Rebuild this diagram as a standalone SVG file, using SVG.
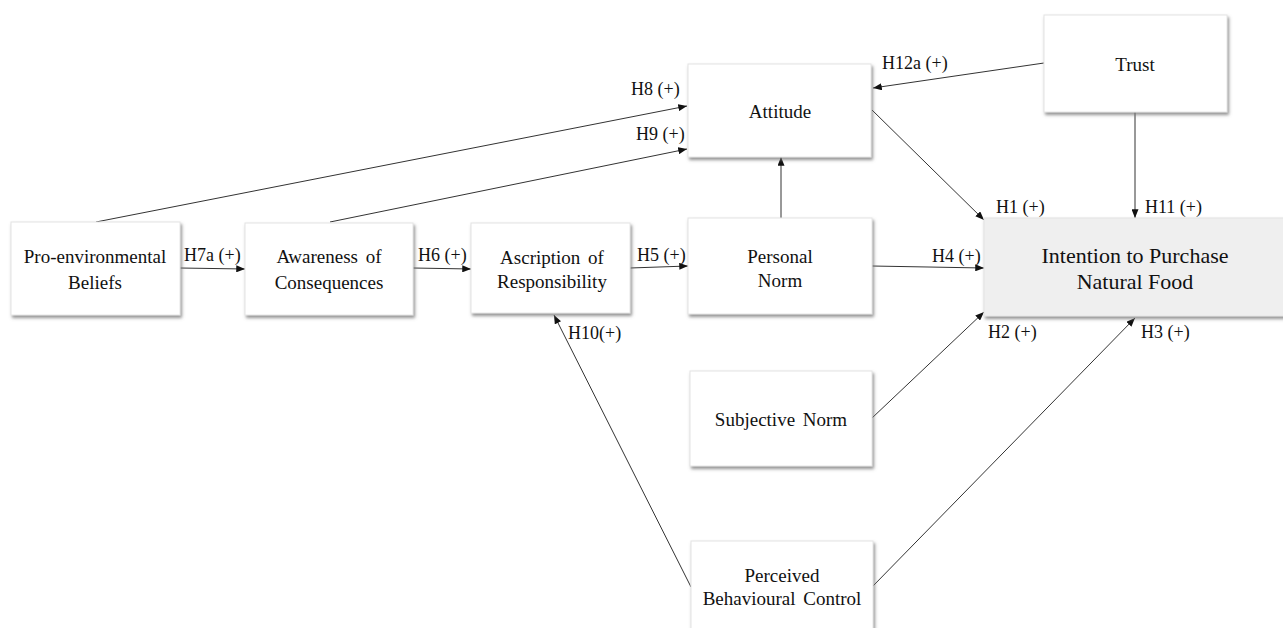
<svg xmlns="http://www.w3.org/2000/svg" width="1283" height="628" viewBox="0 0 1283 628">
<style>
.box{fill:#fff;stroke:#e4e4e4;stroke-width:1;filter:url(#sh)}
.hl{fill:#efefef}
.t{font-family:"Liberation Serif","Times New Roman","DejaVu Serif",serif;font-size:19px;fill:#111;text-anchor:middle;word-spacing:3px}
.big{font-size:22px;word-spacing:0}
.lb{font-family:"Liberation Serif","Times New Roman","DejaVu Serif",serif;font-size:18px;fill:#111}
.c{stroke:#333;stroke-width:1;fill:none;marker-end:url(#ah)}
</style>
<defs>
<filter id="sh" x="-10%" y="-10%" width="120%" height="130%">
<feDropShadow dx="1.5" dy="2.5" stdDeviation="1.5" flood-color="#777" flood-opacity="0.8"/>
</filter>
<marker id="ah" viewBox="0 0 10 8" refX="10" refY="4" markerWidth="9" markerHeight="7" markerUnits="userSpaceOnUse" orient="auto">
<path d="M0,0 L10,4 L0,8 z" fill="#111"/>
</marker>
</defs>
<rect width="1283" height="628" fill="#fff"/>
<g id="connectors">
<line class="c" x1="96" y1="222" x2="687" y2="106"/>
<line class="c" x1="330" y1="222" x2="687" y2="149"/>
<line class="c" x1="180" y1="268" x2="245" y2="269"/>
<line class="c" x1="413" y1="268" x2="471" y2="269"/>
<line class="c" x1="630" y1="268" x2="688" y2="266"/>
<line class="c" x1="872" y1="266" x2="984" y2="268"/>
<line class="c" x1="781" y1="218" x2="781" y2="157"/>
<line class="c" x1="872" y1="110" x2="984" y2="220"/>
<line class="c" x1="1044" y1="63" x2="873" y2="88"/>
<line class="c" x1="1135" y1="112" x2="1135" y2="218"/>
<line class="c" x1="872" y1="418" x2="984" y2="312"/>
<line class="c" x1="873" y1="586" x2="1135" y2="318"/>
<line class="c" x1="691" y1="587" x2="554" y2="315"/>
<text class="lb" x="184" y="261">H7a (+)</text>
<text class="lb" x="418" y="261">H6 (+)</text>
<text class="lb" x="637" y="261">H5 (+)</text>
<text class="lb" x="932" y="262">H4 (+)</text>
<text class="lb" x="631" y="95">H8 (+)</text>
<text class="lb" x="636" y="140">H9 (+)</text>
<text class="lb" x="882" y="69">H12a (+)</text>
<text class="lb" x="996" y="213">H1 (+)</text>
<text class="lb" x="1145" y="213">H11 (+)</text>
<text class="lb" x="988" y="338">H2 (+)</text>
<text class="lb" x="1141" y="338">H3 (+)</text>
<text class="lb" x="568" y="339">H10(+)</text>
</g>
<g id="proenv">
<rect class="box" x="11" y="222" width="169" height="93"/>
<text class="t" x="95" y="263">Pro-environmental</text>
<text class="t" x="95" y="289">Beliefs</text>
</g>
<g id="awareness">
<rect class="box" x="245" y="223" width="168" height="92"/>
<text class="t" x="329" y="263">Awareness of</text>
<text class="t" x="329" y="289">Consequences</text>
</g>
<g id="ascription">
<rect class="box" x="471" y="223" width="159" height="90"/>
<text class="t" x="552" y="264">Ascription of</text>
<text class="t" x="552" y="288">Responsibility</text>
</g>
<g id="personal">
<rect class="box" x="688" y="218" width="184" height="96"/>
<text class="t" x="780" y="263">Personal</text>
<text class="t" x="780" y="287">Norm</text>
</g>
<g id="attitude">
<rect class="box" x="688" y="64" width="183" height="93"/>
<text class="t" x="780" y="118">Attitude</text>
</g>
<g id="trust">
<rect class="box" x="1044" y="15" width="183" height="97"/>
<text class="t" x="1135" y="71">Trust</text>
</g>
<g id="intention">
<rect class="box hl" x="984" y="218" width="305" height="98"/>
<text class="t big" x="1135" y="263">Intention to Purchase</text>
<text class="t big" x="1135" y="289">Natural Food</text>
</g>
<g id="subjective">
<rect class="box" x="690" y="371" width="182" height="95"/>
<text class="t" x="781" y="426">Subjective Norm</text>
</g>
<g id="pbc">
<rect class="box" x="691" y="541" width="182" height="96"/>
<text class="t" x="782" y="582">Perceived</text>
<text class="t" x="782" y="605">Behavioural Control</text>
</g>
</svg>
